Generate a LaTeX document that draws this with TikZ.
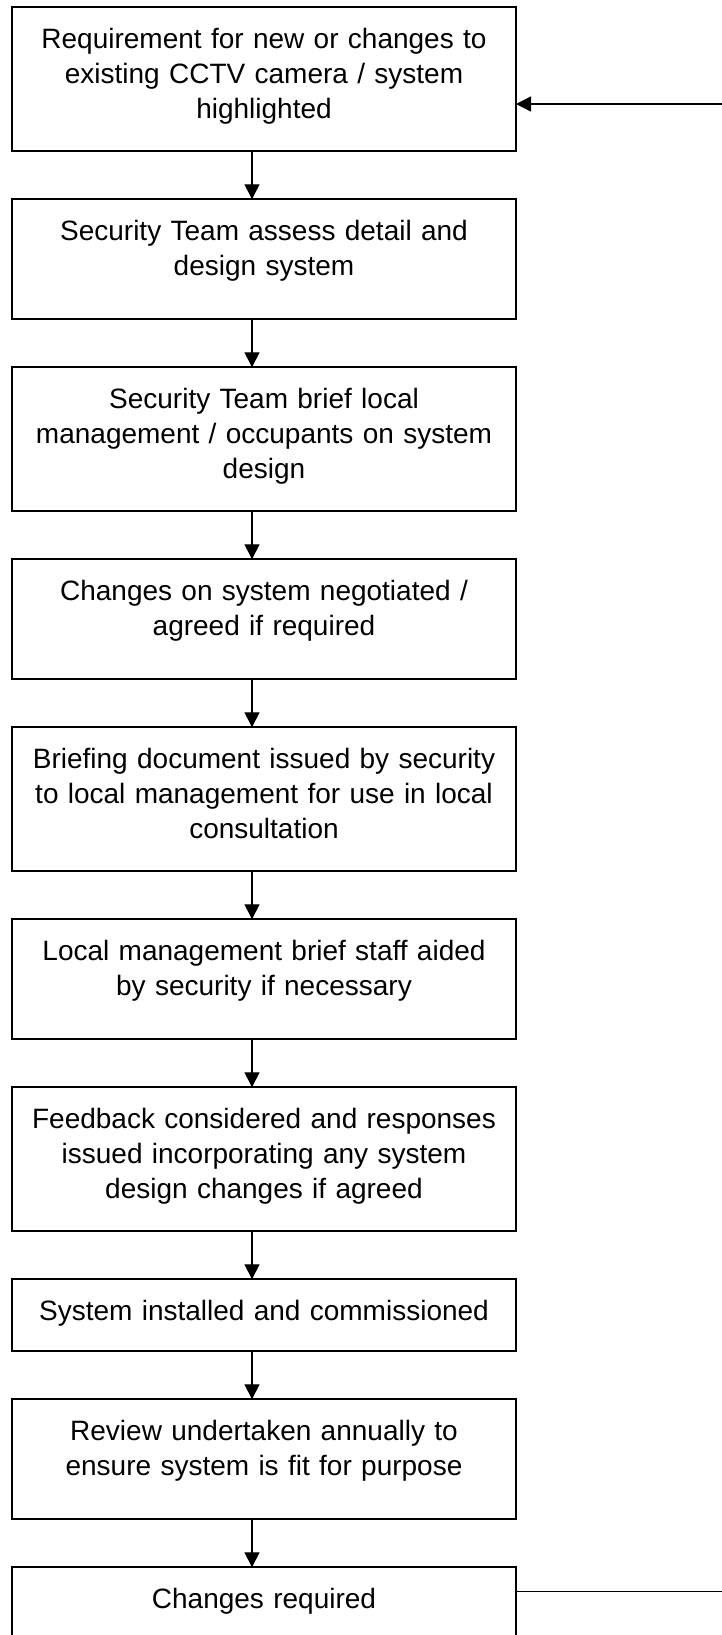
\documentclass[tikz,border=0pt]{standalone}
\usepackage{fontspec}
\setmainfont{Liberation Sans}
\usetikzlibrary{positioning,arrows.meta}

\begin{document}
\begin{tikzpicture}[
            node distance=24pt,
            flow/.style={line width=0.65pt,-{Triangle[length=7.5pt,width=7.5pt]}},
            stepbox/.style={draw,line width=0.9pt,outer sep=0pt,text width=240pt,
                inner xsep=6pt,inner ysep=10.75pt,align=center,text height=10pt,
                font=\fontsize{14pt}{17.5pt}\selectfont},
            tall/.style={stepbox,text depth=40.5pt},
            mid/.style={stepbox,text depth=28.5pt},
            low/.style={stepbox,text depth=4.5pt}
        ]
            \clip (0,0) rectangle (361pt,-817.5pt);

            \node (r1) [tall,anchor=north] at (132pt,-3.65pt) {Requirement for new or changes to\\existing CCTV camera / system\\highlighted};
            \node (r2)  [mid,below=of r1]  {Security Team assess detail and\\design system};
            \node (r3)  [tall,below=of r2] {Security Team brief local\\management / occupants on system\\design};
            \node (r4)  [mid,below=of r3]  {Changes on system negotiated /\\agreed if required};
            \node (r5)  [tall,below=of r4] {Briefing document issued by security\\to local management for use in local\\consultation};
            \node (r6)  [mid,below=of r5]  {Local management brief staff aided\\by security if necessary};
            \node (r7)  [tall,below=of r6] {Feedback considered and responses\\issued incorporating any system\\design changes if agreed};
            \node (r8)  [low,below=of r7]  {System installed and commissioned\hspace*{3.9pt}};
            \node (r9)  [mid,below=of r8]  {Review undertaken annually to\\ensure system is fit for purpose};
            \node (r10) [mid,below=of r9]  {Changes required};

            \coordinate (loopin)  at (361pt,-52pt);
            \coordinate (loopout) at (361pt,-795.65pt);

            \draw [flow] ([xshift=-6pt]r1.south) -- ([xshift=-6pt]r2.north);
            \draw [flow] ([xshift=-6pt]r2.south) -- ([xshift=-6pt]r3.north);
            \draw [flow] ([xshift=-6pt]r3.south) -- ([xshift=-6pt]r4.north);
            \draw [flow] ([xshift=-6pt]r4.south) -- ([xshift=-6pt]r5.north);
            \draw [flow] ([xshift=-6pt]r5.south) -- ([xshift=-6pt]r6.north);
            \draw [flow] ([xshift=-6pt]r6.south) -- ([xshift=-6pt]r7.north);
            \draw [flow] ([xshift=-6pt]r7.south) -- ([xshift=-6pt]r8.north);
            \draw [flow] ([xshift=-6pt]r8.south) -- ([xshift=-6pt]r9.north);
            \draw [flow] ([xshift=-6pt]r9.south) -- ([xshift=-6pt]r10.north);
            \draw [line width=0.5pt] ([yshift=-12pt]r10.north east) -- (loopout);
            \draw [flow] (loopin) -- ([yshift=-12.35pt]r1.east);
        \end{tikzpicture}
\end{document}
